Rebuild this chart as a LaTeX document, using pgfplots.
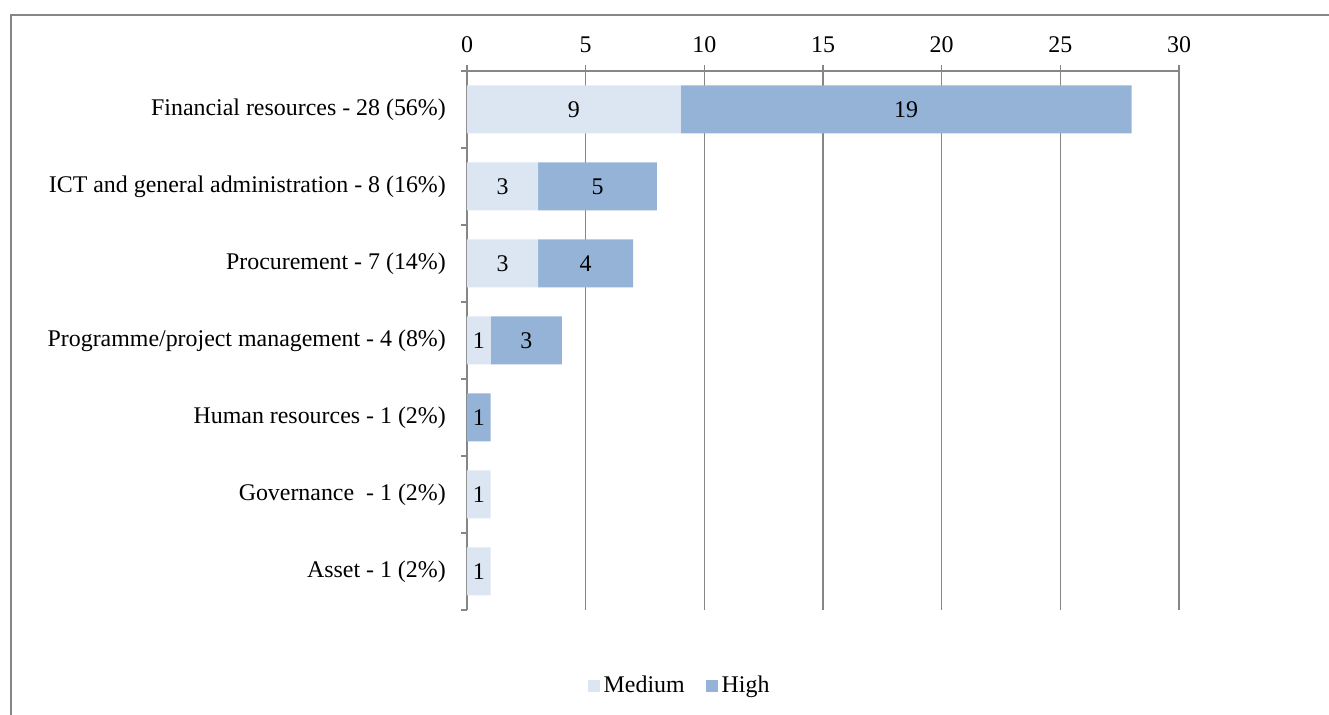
\documentclass[border=0pt]{standalone}
\usepackage{pgfplots}
\usepackage{pgfplotstable}
\pgfplotsset{compat=1.18}
\usepackage{fontspec}
\setmainfont{Liberation Serif}

\definecolor{medium}{HTML}{DCE6F2}
\definecolor{high}{HTML}{95B3D7}
\definecolor{rule}{HTML}{868686}

% risk counts per area: y position (top = 6), segment value, label text
\pgfplotstableread{
y v lab
6 9 9
5 3 3
4 3 3
3 1 1
2 0 {}
1 1 1
0 1 1
}\mediumdata
\pgfplotstableread{
y v lab
6 19 19
5 5 5
4 4 4
3 3 3
2 1 1
1 0 {}
0 0 {}
}\highdata

\newcommand{\chartfont}{\fontsize{13.6}{16}\selectfont}

\begin{document}
\begin{tikzpicture}
\path[use as bounding box] (0,0) rectangle (26.58cm,14.30cm);
\draw[rule, line width=0.04cm] (0.22cm,-0.2cm) -- (0.22cm,14.0cm) -- (26.8cm,14.0cm);
\begin{axis}[
  at={(9.34cm,2.10cm)}, anchor=south west,
  scale only axis, width=14.24cm, height=10.78cm,
  xbar stacked, bar width=0.96cm,
  xmin=0, xmax=30, ymin=-0.5, ymax=6.5,
  axis x line*=top, axis y line*=left,
  axis line style={rule, line width=0.03cm},
  xtick={0,5,...,30},
  ytick={0,...,6},
  yticklabels={Asset - 1 (2\%), Governance\ \ - 1 (2\%), Human resources - 1 (2\%), Programme/project management - 4 (8\%), Procurement - 7 (14\%), ICT and general administration - 8 (16\%), Financial resources - 28 (56\%)},
  minor ytick={-0.5,0.5,...,6.5},
  major tick length=0.12cm, minor tick length=0.12cm,
  tick align=outside,
  tick style={rule, line width=0.03cm},
  every major y tick/.append style={draw=none},
  xmajorgrids,
  major grid style={rule, line width=0.03cm},
  tick label style={font=\chartfont},
  yticklabel style={xshift=-0.18cm},
  xticklabel style={yshift=0.12cm},
  /pgf/number format/assume math mode=true,
  legend style={at={(0.30,-0.141)}, anchor=center, draw=none, fill=none,
    legend columns=2, font=\chartfont,
    /tikz/every even column/.append style={column sep=0.36cm}},
]
\addplot[fill=medium, draw=none,
  point meta=explicit symbolic, nodes near coords,
  every node near coord/.append style={anchor=center, font=\chartfont},
  legend image code/.code={\path[fill=medium] (0cm,-0.12cm) rectangle (0.24cm,0.12cm);}]
  table[x=v, y=y, meta=lab] {\mediumdata};
\addlegendentry{Medium}
\addplot[fill=high, draw=none,
  point meta=explicit symbolic, nodes near coords,
  every node near coord/.append style={anchor=center, font=\chartfont},
  legend image code/.code={\path[fill=high] (0cm,-0.12cm) rectangle (0.24cm,0.12cm);}]
  table[x=v, y=y, meta=lab] {\highdata};
\addlegendentry{High}
\end{axis}
\end{tikzpicture}
\end{document}
